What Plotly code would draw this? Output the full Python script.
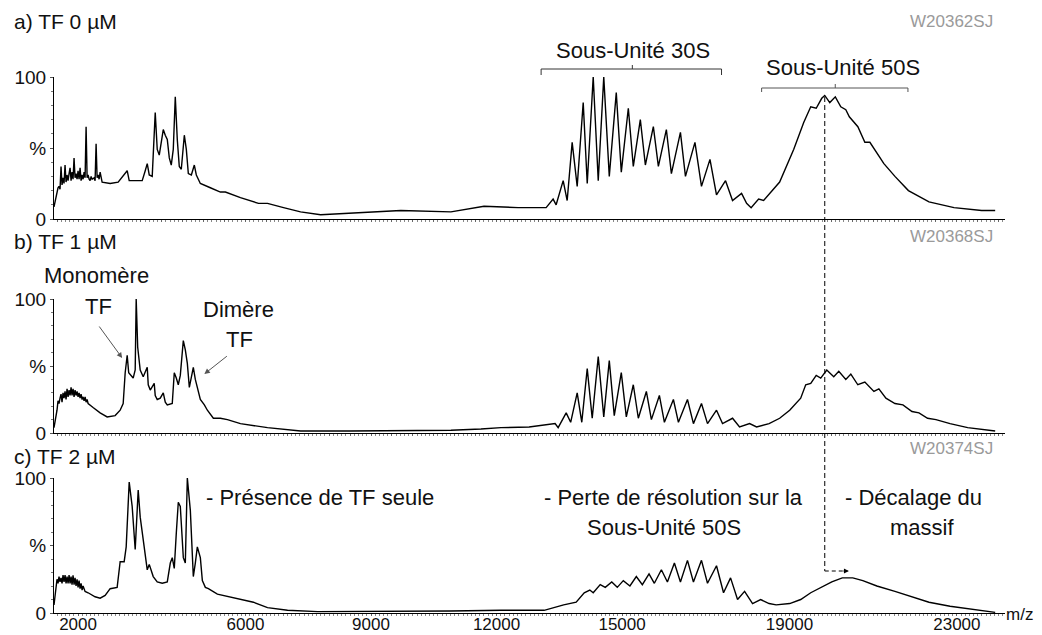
import plotly.graph_objects as go

# ---------------- data (m/z, relative intensity %) ----------------
mz_a = [1425, 1473, 1497, 1521, 1545, 1569, 1593, 1617, 1641, 1665, 1689, 1713, 1737, 1761, 1785,
        1809, 1833, 1856, 1880, 1904, 1928, 1952, 1976, 2000, 2024, 2048, 2072, 2096, 2120, 2144,
        2168, 2192, 2216, 2240, 2264, 2288, 2312, 2336, 2383, 2407, 2431, 2455, 2479, 2503, 2527,
        2575, 2767, 2958, 3174, 3222, 3365, 3533, 3605, 3653,
        3701, 3772, 3844, 3892, 3940, 3988, 4036, 4084, 4132, 4180, 4227, 4275, 4323, 4371, 4419,
        4467, 4539, 4587, 4635, 4707, 4778, 4826, 4922, 5161, 5401, 5521, 5880, 6311, 6527, 6910,
        7317, 7796, 8515, 9712, 10910, 11700, 12514, 13137, 13185, 13352, 13424, 13592, 13688,
        13807, 13927, 14071, 14167, 14310, 14430, 14562, 14694, 14861, 14981, 15149, 15268, 15436,
        15556, 15747, 15867, 16058, 16178, 16394, 16514, 16741, 16897, 17100, 17256, 17472, 17639,
        17855, 17975, 18083, 18262, 18382, 18765, 19100, 19340, 19508, 19639, 19771, 19843, 19963,
        20095, 20226, 20346, 20430, 20634, 20801, 20921, 21256, 21520, 21842, 22334, 22932, 23591,
        23915]
int_a = [8.5, 16, 19, 22, 23, 21, 37, 24, 29, 25, 38, 26, 31, 27, 32,
         36, 27, 33, 28, 43, 29, 32, 28, 34, 28, 36, 27, 31, 28, 33,
         29, 65, 29, 31, 28, 27, 30, 28, 29, 27, 53, 29, 31, 28, 33,
         26, 25, 26, 34, 27, 27, 27, 34, 39,
         31, 30, 75, 49, 45, 56, 63, 59, 56, 43, 38, 49, 86, 56, 37,
         35, 59, 49, 32, 31, 38, 31, 25, 22, 19, 19, 15, 11, 11, 8,
         5, 3, 4, 6, 5, 9, 8, 8, 8, 14, 10, 27, 13,
         54, 23, 82, 25, 100, 27, 100, 30, 89, 33, 78, 37, 70,
         38, 65, 37, 63, 32, 61, 30, 54, 23, 42, 17, 27, 13,
         18, 11, 8, 14, 13, 26, 49, 68, 79, 78, 85, 87, 82,
         86, 79, 77, 72, 65, 54, 54, 39, 30, 20, 12, 8, 6,
         6]

mz_b = [1425, 1473, 1497, 1521, 1545, 1569, 1593, 1617, 1641, 1665, 1689, 1713, 1737, 1761, 1785,
        1809, 1833, 1856, 1880, 1904, 1928, 1952, 1976, 2000, 2024, 2048, 2072, 2096, 2120, 2144,
        2168, 2192, 2216, 2240, 2288, 2359, 2527, 2695, 2886, 3006, 3078, 3126, 3174, 3210, 3317,
        3365, 3389, 3425, 3485,
        3557, 3653, 3677, 3725, 3820, 3844, 3892, 3964, 4036, 4084, 4132, 4251, 4299, 4347, 4395,
        4443, 4515, 4563, 4611, 4659, 4706, 4754, 4802, 4850, 4922, 5018, 5090, 5233, 5401, 5569,
        5880, 6527, 7317, 8515, 9712, 10910, 11628, 12107, 12778, 13400, 13472, 13664, 13771,
        13927, 14037, 14167, 14286, 14430, 14562, 14694, 14813, 14981, 15101, 15268, 15388, 15580,
        15700, 15891, 16011, 16226, 16346, 16562, 16705, 16897, 17041, 17256, 17400, 17640, 17807,
        18047, 18214, 18513, 18765, 19005, 19268, 19388, 19508, 19639, 19747, 19891, 20058, 20178,
        20346, 20466, 20633, 20801, 21017, 21136, 21304, 21520, 21711, 21927, 22094, 22300, 22501,
        22837, 23258, 23747, 23915]
int_b = [4, 12, 17, 24, 22, 26, 29, 23, 30, 26, 31, 25, 33, 27, 32,
         28, 34, 28, 33, 27, 32, 28, 31, 27, 30, 26, 29, 25, 27, 24,
         27, 23, 25, 22, 21, 19, 15, 12, 13, 17, 22, 45, 58, 45, 41,
         47, 100, 64, 47,
         42, 49, 36, 32, 37, 28, 25, 26, 30, 23, 21, 22, 45, 41, 36,
         43, 69, 62, 52, 34, 43, 49, 40, 34, 25, 21, 17, 11, 11, 10,
         7, 4, 1.5, 1.5, 1.5, 2, 3, 4, 4.5, 7, 4, 15, 8,
         30, 8, 48, 11, 57, 12, 54, 13, 45, 12, 36, 11, 31,
         10, 28, 8, 25, 8, 25, 7, 22, 7, 17, 7, 11, 4.5,
         7, 4.5, 7, 11, 17, 26, 36, 37, 43, 41, 47, 42, 46,
         40, 44, 36, 38, 31, 33, 26, 22, 21, 16, 15, 11, 10,
         7, 4, 2, 1.5]

mz_c = [1425, 1473, 1497, 1521, 1545, 1569, 1593, 1617, 1641, 1665, 1689, 1713, 1737, 1761, 1785,
        1809, 1833, 1856, 1880, 1904, 1928, 1952, 1976, 2000, 2024, 2048, 2072, 2096, 2120, 2168,
        2240, 2407, 2527, 2647,
        2767, 2934, 3006, 3102, 3150, 3222, 3293, 3365, 3437, 3485, 3557, 3653, 3701, 3796, 3892,
        4012, 4132, 4204, 4251, 4299, 4347, 4395, 4443, 4515, 4563, 4611, 4683, 4754, 4802, 4850,
        4922, 4970, 5042, 5114, 5329, 5641, 5880, 6191, 6527, 7006, 7724, 8515, 9712, 10910, 12107,
        13137, 13604, 13903, 14095, 14229, 14310, 14478, 14598, 14753, 14885, 15029, 15187, 15340,
        15484, 15644, 15771, 15939, 16083, 16250, 16394, 16562, 16705, 16897, 17041, 17256, 17424,
        17592, 17759, 17927, 18118, 18310, 18513, 18681, 19005, 19268, 19508, 19771, 20011, 20262,
        20513, 20752, 21088, 21520, 21927, 22334, 22837, 23340, 23747, 23915]
int_c = [6, 22, 25, 22, 27, 23, 26, 22, 28, 23, 28, 22, 27, 22, 28,
         22, 27, 21, 28, 21, 26, 20, 25, 19, 24, 18, 22, 17, 20, 16,
         15, 12, 11, 13,
         18, 19, 38, 38, 49, 97, 79, 47, 91, 71, 54, 32, 36, 27, 23,
         22, 23, 37, 41, 33, 59, 82, 79, 41, 37, 100, 76, 27, 37, 49,
         41, 24, 19, 18, 14, 12, 10, 8, 4, 2, 1, 1, 1.5, 1.5, 2,
         2, 6, 8, 15, 17, 15, 21, 19, 23, 19, 24, 20, 27,
         21, 29, 22, 32, 23, 37, 23, 39, 23, 39, 22, 35, 15,
         26, 10, 16, 7, 10, 7, 6, 7, 10, 15, 19, 23, 26,
         26, 24, 20, 16, 12, 8, 5, 3, 1, 0.5]

x_tick_vals = [2000, 6000, 9000, 12000, 15000, 19000, 23000]
x_tick_text = ["2000", "6000", "9000", "12000", "15000", "19000", "23000"]
y_tick_vals = [0, 50, 100]
y_tick_text = ["0", "%", "100"]

panel_titles = ["a) TF 0 µM", "b) TF 1 µM", "c) TF 2 µM"]
run_ids = ["W20362SJ", "W20368SJ", "W20374SJ"]

# ---------------- figure ----------------
FONT = "Liberation Sans, Arial, sans-serif"
OFF = 8          # page body margin of the html output
W, H = 1034, 627


def py(p):
    """row of the target picture -> paper y"""
    return 1 - (p - OFF) / H


X_RANGE = [1425, 24150]
domains = [[py(219), py(77)], [py(433), py(299)], [py(613), py(478)]]

fig = go.Figure()
for i, (mz, inten) in enumerate([(mz_a, int_a), (mz_b, int_b), (mz_c, int_c)]):
    sfx = "" if i == 0 else str(i + 1)
    fig.add_trace(go.Scatter(x=mz, y=inten, mode="lines",
                             line=dict(color="black", width=1.4),
                             xaxis="x" + sfx, yaxis="y" + sfx,
                             hoverinfo="skip", showlegend=False, cliponaxis=False))

    last = (i == 2)
    xa = dict(range=X_RANGE, domain=[0, 1], anchor="y" + sfx,
              showline=True, linecolor="black", linewidth=1.2,
              showgrid=False, zeroline=False, automargin=False,
              ticks="outside", ticklen=2, tickcolor="#666", tickwidth=1,
              minor=dict(ticks="outside", ticklen=2, tickcolor="#888",
                         tickmode="linear", tick0=0, dtick=100),
              fixedrange=True)
    if last:
        xa.update(tickmode="array", tickvals=x_tick_vals, ticktext=x_tick_text,
                  showticklabels=True, ticklabelstandoff=-7,
                  tickfont=dict(family=FONT, size=17, color="#111"))
    else:
        xa.update(tickmode="linear", tick0=0, dtick=500, showticklabels=False,
                  matches="x3")
    ya = dict(range=[0, 100], domain=domains[i], anchor="x" + sfx,
              showline=True, linecolor="black", linewidth=1.2,
              showgrid=False, zeroline=False, automargin=False,
              tickmode="array", tickvals=y_tick_vals, ticktext=y_tick_text,
              ticks="outside", ticklen=3, tickcolor="#555",
              minor=dict(ticks="outside", ticklen=2, tickcolor="#777",
                         tickmode="linear", tick0=0, dtick=10),
              tickfont=dict(family=FONT, size=19, color="#111"),
              fixedrange=True)
    fig.layout["xaxis" + sfx] = xa
    fig.layout["yaxis" + sfx] = ya

ann = []
title_rows = [22, 241, 456]
id_rows = [22, 237, 448]
for t, r in zip(panel_titles, title_rows):
    ann.append(dict(text=t, xref="paper", yref="paper", x=-0.0442, y=py(r),
                    xanchor="left", yanchor="middle", showarrow=False,
                    font=dict(family=FONT, size=21, color="#111")))
for t, r in zip(run_ids, id_rows):
    ann.append(dict(text=t, xref="paper", yref="paper", x=0.99, y=py(r),
                    xanchor="right", yanchor="middle", showarrow=False,
                    font=dict(family=FONT, size=17, color="#9a9a9a")))

labels = [
    ("Sous-Unité 30S", 15250, 50, "center"),
    ("Sous-Unité 50S", 20270, 67, "center"),
    ("Monomère", 2430, 275, "center"),
    ("TF", 2500, 306, "center"),
    ("Dimère", 5830, 310, "center"),
    ("TF", 5860, 340, "center"),
    ("- Présence de TF seule", 5018, 497, "left"),
    ("- Perte de résolution sur la", 16220, 497, "center"),
    ("Sous-Unité 50S", 16010, 527, "center"),
    ("- Décalage du", 21970, 497, "center"),
    ("massif", 22160, 527, "center"),
]
for t, xv, r, anc in labels:
    ann.append(dict(text=t, xref="x", yref="paper", x=xv, y=py(r),
                    xanchor=anc, yanchor="middle", showarrow=False,
                    font=dict(family=FONT, size=22, color="#111")))

ann.append(dict(text="m/z", xref="paper", yref="paper", x=1.032, y=py(614),
                xanchor="right", yanchor="middle", showarrow=False,
                font=dict(family=FONT, size=17, color="#111")))

# arrows pointing to the TF monomer / dimer
ann.append(dict(text="", xref="x", yref="paper", x=3054, y=py(358),
                ax=-24, ay=-33, showarrow=True, arrowhead=2, arrowsize=1.1,
                arrowwidth=1, arrowcolor="#555"))
ann.append(dict(text="", xref="x", yref="paper", x=5018, y=py(374),
                ax=24, ay=-19, showarrow=True, arrowhead=2, arrowsize=1.1,
                arrowwidth=1, arrowcolor="#555"))
# small shift arrow head
ann.append(dict(text="", xref="x", yref="paper", x=20420, y=py(571),
                ax=-7, ay=0, showarrow=True, arrowhead=2, arrowsize=1,
                arrowwidth=1, arrowcolor="black"))

shapes = []


def seg(x0, r0, x1, r1, color="#333", dash=None, width=1):
    d = dict(type="line", xref="x", yref="paper", x0=x0, x1=x1, y0=py(r0), y1=py(r1),
             line=dict(color=color, width=width))
    if dash:
        d["line"]["dash"] = dash
    shapes.append(d)


# 30S bracket
seg(13065, 69, 17376, 69)
seg(13065, 69, 13065, 75)
seg(17376, 69, 17376, 75)
seg(15245, 69, 15245, 65)
# 50S bracket
seg(18334, 88, 21831, 88, color="#555")
seg(18334, 88, 18334, 92, color="#555")
seg(21831, 88, 21831, 92, color="#555")
seg(20094, 88, 20094, 84, color="#555")
# dashed reference line and shift
seg(19843, 97, 19843, 571, color="black", dash="5px,3px")
seg(19843, 571, 20300, 571, color="black", dash="4px,3px")

fig.update_layout(width=W, height=H,
                  margin=dict(l=46, r=37, t=0, b=0),
                  paper_bgcolor="white", plot_bgcolor="white",
                  annotations=ann, shapes=shapes, showlegend=False,
                  font=dict(family=FONT))

fig.write_html("out.html")
